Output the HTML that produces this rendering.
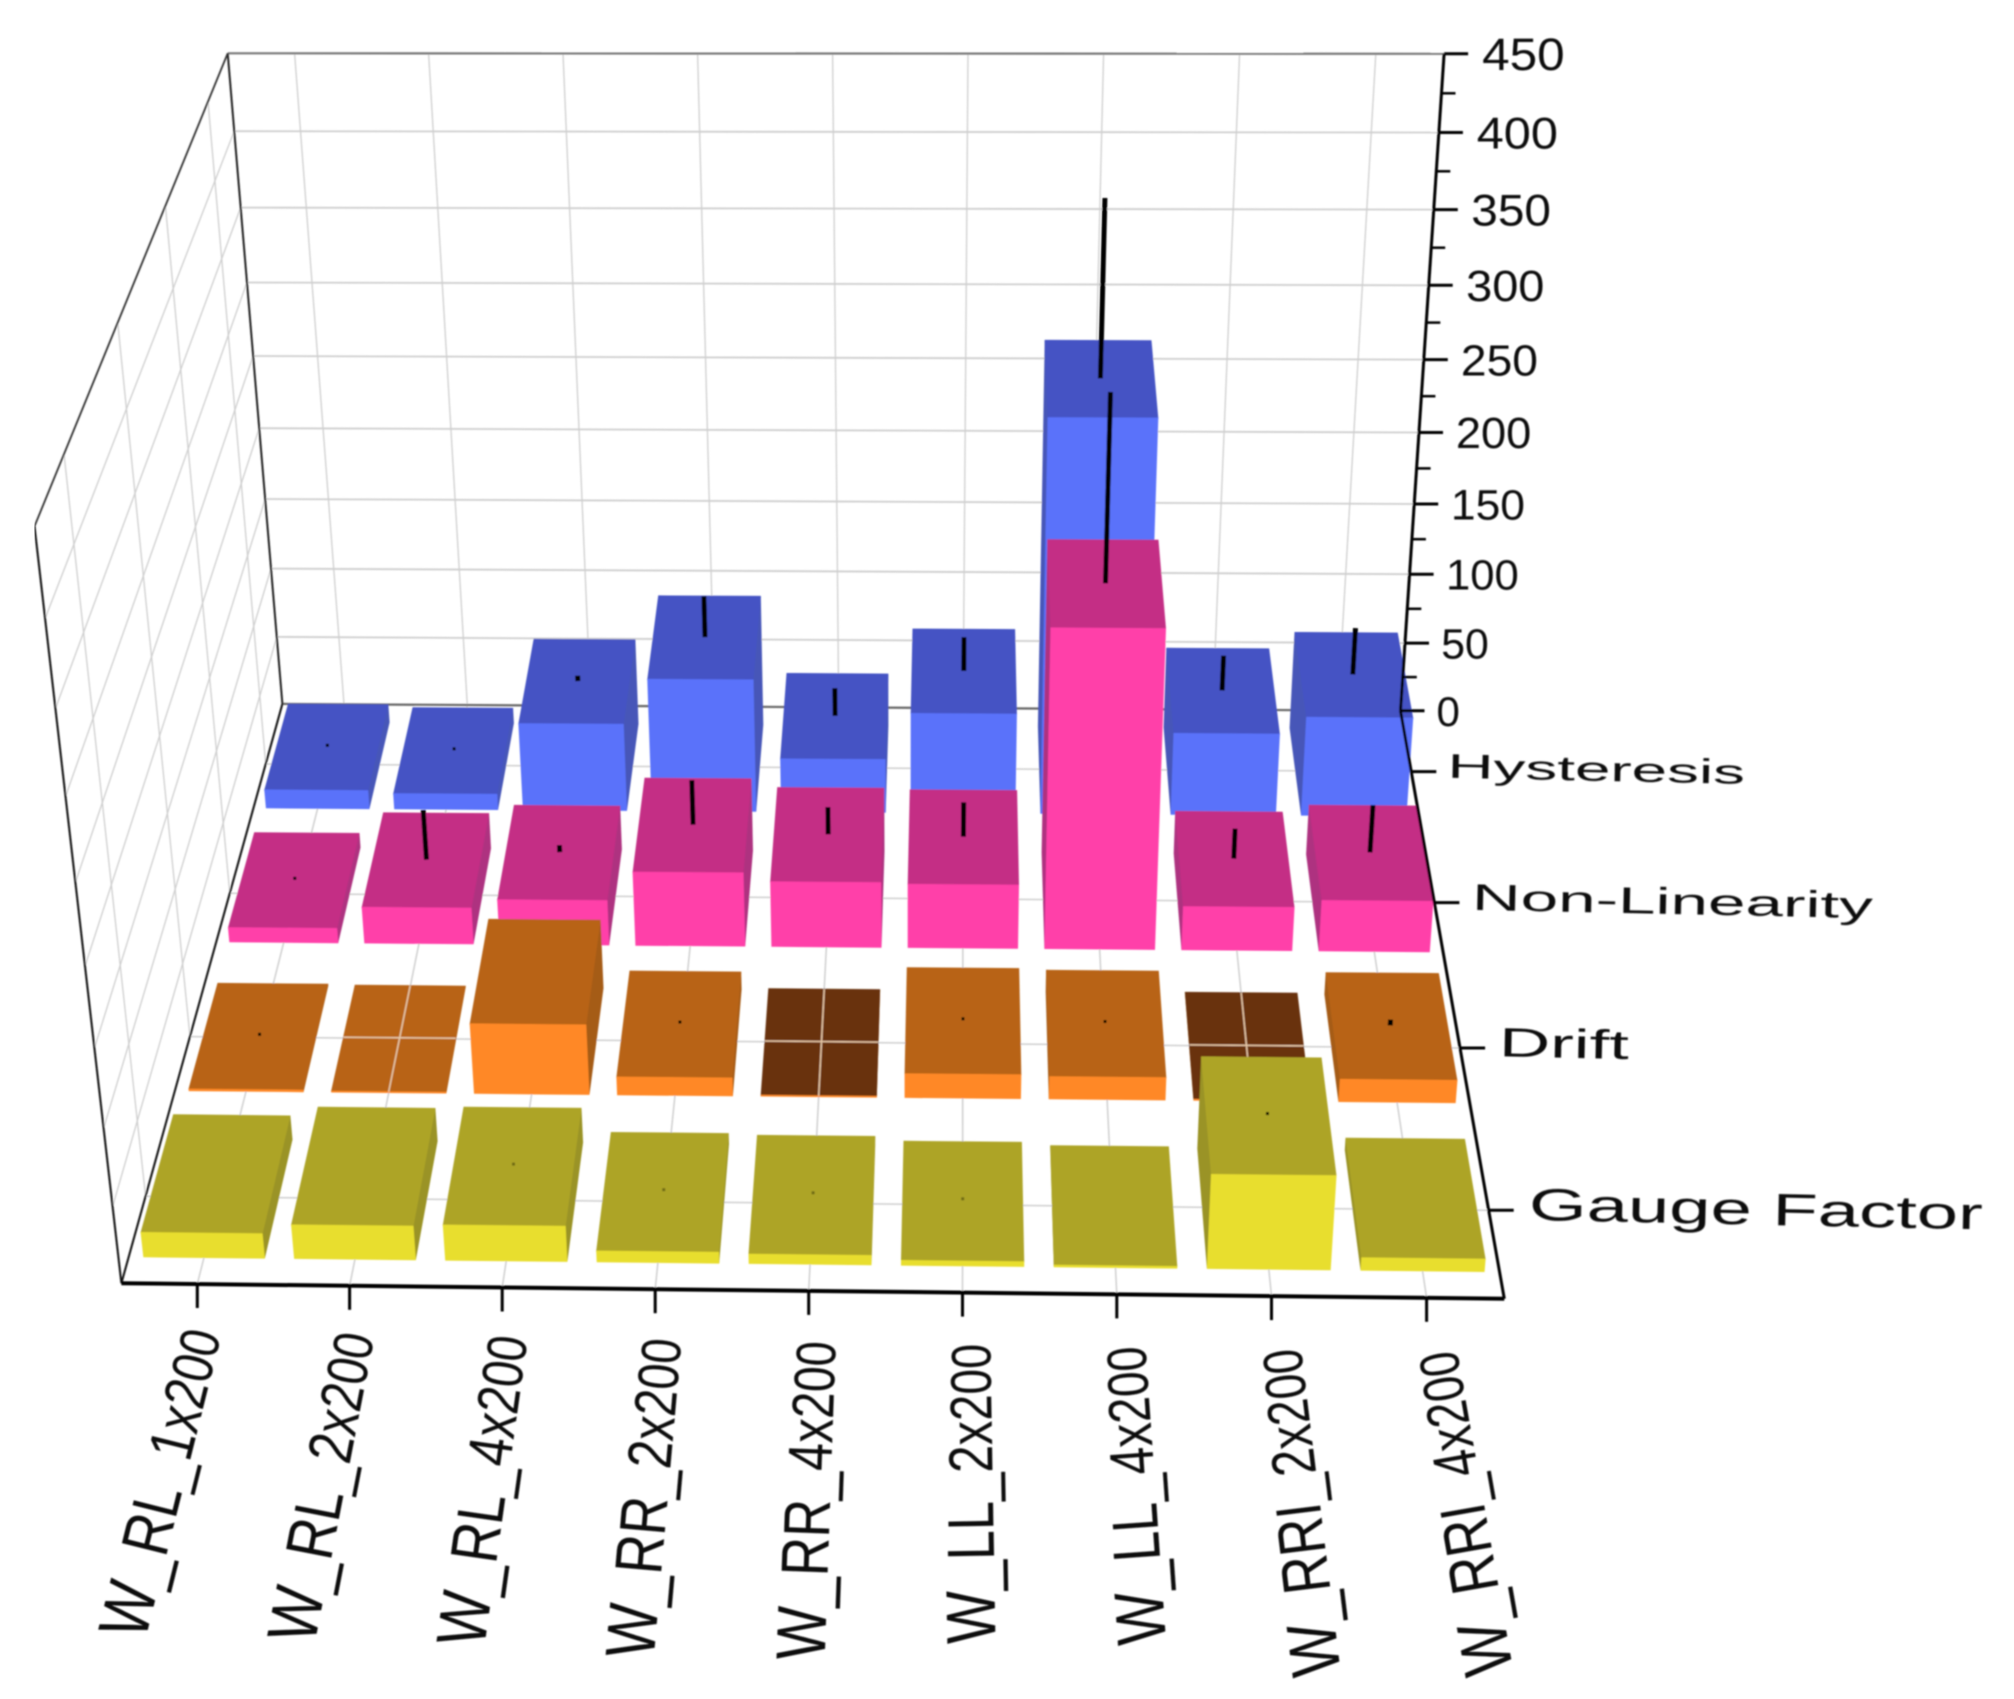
<!DOCTYPE html>
<html lang="en">
<head>
<meta charset="utf-8">
<title>3D bar chart of sensor metrics</title>
<style>
html,body{margin:0;padding:0;background:#fff;}
svg{display:block;font-family:"Liberation Sans",sans-serif;}
</style>
</head>
<body>
<svg id="chart" xmlns="http://www.w3.org/2000/svg" width="2014" height="1699" viewBox="0 0 2014 1699">
<defs><filter id="soft" x="0" y="0" width="100%" height="100%"><feGaussianBlur stdDeviation="0.9"/></filter></defs>
<rect x="0" y="0" width="2014" height="1699" fill="#ffffff"/>
<g id="root" filter="url(#soft)"></g>
</svg>
<script>
var categories = ["W_RL_1x200","W_RL_2x200","W_RL_4x200","W_RR_2x200","W_RR_4x200","W_LL_2x200","W_LL_4x200","W_RRI_2x200","W_RRI_4x200"];
var rowLabels = ["Gauge Factor","Drift","Non-Linearity","Hysteresis"];
var zTicks = [0,50,100,150,200,250,300,350,400,450];
var zMinorTicks = [25,75,125,175,225,275,325,375,425];
var gaugeValues = [16,22,23,7,6,3,1,61,8];
var gaugeErrors = [0,0,0.5,0.5,0.5,0.5,0,1,0];
var driftValues = [1,0.5,47,12,0.5,16,15,0.5,15];
var driftErrors = [1,0,0,2,0,1,1,0,4];
var nonLinearityValues = [10,25,31,51,45,44,216,30,35];
var nonLinearityErrors = [1,35,5,31,19,24,122,21,33];
var hysteresisValues = [13,11,62,94,38,71,273,58,70];
var hysteresisErrors = [1,2,4,29,20,24,117,25,33];
var driftDarkTop = [0,0,0,0,1,0,0,1,0];

var svgNS = "http://www.w3.org/2000/svg";
var root = document.getElementById("root");
var xMax = categories.length, yMax = rowLabels.length, zMax = zTicks[zTicks.length-1];

/* Camera calibration: world corners of the plot box and where they land on the canvas */
var calibration = [
 [0,4,0,283,705],[9,4,0,1400,710],[9,0,0,1502,1299],[0,0,0,122,1282],
 [0,4,450,227,53],[9,4,450,1444,54],[0,0,450,35,526],
 [9,4,400,1439,133],[9,4,350,1434,210],[9,4,300,1429,286],[9,4,250,1424,359],
 [9,4,200,1419,432],[9,4,150,1414,504],[9,4,100,1409,573],[9,4,50,1405,643],
 [9,3.5,0,1411,772],[9,2.5,0,1436,903],[9,1.5,0,1460,1048],[9,0.5,0,1489,1210],
 [0.5,0,0,196,1284],[4.5,0,0,809,1292],[8.5,0,0,1428,1298]
];
function solveCamera(pts){
  var i,j,k,n=11,N=[],B=[];
  for(i=0;i<n;i++){N.push(new Array(n).fill(0));B.push(0);}
  pts.forEach(function(p){
    var x=p[0]/9,y=p[1]/4,z=p[2]/450,u=p[3]/1000,v=p[4]/1000;
    var r1=[x,y,z,1,0,0,0,0,-u*x,-u*y,-u*z],r2=[0,0,0,0,x,y,z,1,-v*x,-v*y,-v*z];
    [[r1,u],[r2,v]].forEach(function(e){
      for(i=0;i<n;i++){B[i]+=e[0][i]*e[1];for(j=0;j<n;j++)N[i][j]+=e[0][i]*e[0][j];}
    });
  });
  for(i=0;i<n;i++){
    var m=i;for(k=i+1;k<n;k++)if(Math.abs(N[k][i])>Math.abs(N[m][i]))m=k;
    var t=N[i];N[i]=N[m];N[m]=t;t=B[i];B[i]=B[m];B[m]=t;
    for(k=i+1;k<n;k++){var f=N[k][i]/N[i][i];for(j=i;j<n;j++)N[k][j]-=f*N[i][j];B[k]-=f*B[i];}
  }
  var s=new Array(n).fill(0);
  for(i=n-1;i>=0;i--){var c=B[i];for(j=i+1;j<n;j++)c-=N[i][j]*s[j];s[i]=c/N[i][i];}
  return s;
}
var cam = solveCamera(calibration);
function project(x,y,z){
  var a=x/xMax,b=y/yMax,c=z/zMax,w=cam[8]*a+cam[9]*b+cam[10]*c+1;
  return [1000*(cam[0]*a+cam[1]*b+cam[2]*c+cam[3])/w,1000*(cam[4]*a+cam[5]*b+cam[6]*c+cam[7])/w];
}
function make(tag,attrs,parent){
  var el=document.createElementNS(svgNS,tag);
  for(var k in attrs)el.setAttribute(k,attrs[k]);
  (parent||root).appendChild(el);
  return el;
}
function seg(a,b,color,width,parent){
  return make("line",{x1:a[0].toFixed(1),y1:a[1].toFixed(1),x2:b[0].toFixed(1),y2:b[1].toFixed(1),stroke:color,"stroke-width":width},parent);
}
function poly(points,fill,parent){
  return make("polygon",{points:points.map(function(p){return p[0].toFixed(1)+","+p[1].toFixed(1);}).join(" "),fill:fill,stroke:fill,"stroke-width":1},parent);
}
function signedArea(pts){
  var s=0;
  for(var i=0;i<pts.length;i++){var a=pts[i],b=pts[(i+1)%pts.length];s+=a[0]*b[1]-b[0]*a[1];}
  return s;
}
var el;
var gridColor="#cfcfcf";

/* Gridlines */
zTicks.forEach(function(z,idx){
  if(idx===0||idx===zTicks.length-1)return;
  el=seg(project(0,yMax,z),project(xMax,yMax,z),gridColor,1.8);
  
  
  el=seg(project(0,0,z),project(0,yMax,z),gridColor,1.3);
  
  
});
categories.forEach(function(c,i){
  el=seg(project(i+0.5,yMax,0),project(i+0.5,yMax,zMax),gridColor,1.3);
  
  
  el=seg(project(i+0.5,0,0),project(i+0.5,yMax,0),gridColor,1.5);
  
  
});
rowLabels.forEach(function(r,j){
  el=seg(project(0,j+0.5,0),project(xMax,j+0.5,0),gridColor,1.5);
  
  
  el=seg(project(0,j+0.5,0),project(0,j+0.5,zMax),gridColor,1.3);
  
  
});

/* Frame */
el=seg(project(0,yMax,zMax),project(xMax,yMax,zMax),"#777777",2.2);


el=seg(project(0,yMax,0),project(xMax,yMax,0),"#666666",2.2);


el=seg(project(0,yMax,0),project(0,yMax,zMax),"#222222",2);


el=seg(project(0,0,zMax),project(0,yMax,zMax),"#333333",1.8);


el=seg(project(0,0,0),project(0,0,zMax),"#111111",2);


el=seg(project(0,0,0),project(0,yMax,0),"#111111",2);



/* Bars, back row first */
var series=[
 {name:"gauge-factor",values:gaugeValues,errors:gaugeErrors,top:"#ada426",front:"#e8de2e",side:"#9a9325"},
 {name:"drift",values:driftValues,errors:driftErrors,top:"#b86415",front:"#ff8826",side:"#a55b14"},
 {name:"non-linearity",values:nonLinearityValues,errors:nonLinearityErrors,top:"#c42f85",front:"#ff40a9",side:"#ae3280"},
 {name:"hysteresis",values:hysteresisValues,errors:hysteresisErrors,top:"#4453c4",front:"#5a72fa",side:"#4656b8"}
];
var barW=0.4, barD=0.35;
for(var j=series.length-1;j>=0;j--){
  (function(s,j){
    s.values.forEach(function(v,i){
      var cx=i+0.5,cy=j+0.5,x0=cx-barW,x1=cx+barW,y0=cy-barD,y1=cy+barD;
      var g=make("g",{});
      
      
      var topColor=s.top;
      if(s.name==="drift"&&driftDarkTop[i])topColor="#693210";
      var frontFace=[project(x0,y0,0),project(x1,y0,0),project(x1,y0,v),project(x0,y0,v)];
      var leftFace=[project(x0,y0,0),project(x0,y1,0),project(x0,y1,v),project(x0,y0,v)];
      var rightFace=[project(x1,y0,0),project(x1,y1,0),project(x1,y1,v),project(x1,y0,v)];
      var fs=signedArea(frontFace);
      if(signedArea(leftFace)*fs<0)poly(leftFace,s.side,g);
      if(signedArea(rightFace)*fs>0)poly(rightFace,s.side,g);
      poly([project(x0,y0,v),project(x1,y0,v),project(x1,y1,v),project(x0,y1,v)],topColor,g);
      poly(frontFace,s.front,g);
      if(s.name==="drift"&&s.values[i]<1){
        seg(project(cx,y0,v),project(cx,y1,v),"#e6c8a8",1.5,g);
        seg(project(x0,cy,v),project(x1,cy,v),"#e6c8a8",1.5,g);
      }
      var e=s.errors[i];
      if(e>0){
        var a=project(cx,cy,v),b=project(cx,cy,v+e);
        if(Math.abs(a[1]-b[1])<3)b=[b[0],a[1]-3];
        el=seg(a,b,"#000000",e>=4?5:3,g);
        if(s.name==="gauge-factor"&&i!==7)el.setAttribute('stroke-opacity','0.35');
        
        
      }
    });
  })(series[j],j);
}

/* Axes on top */
el=seg(project(0,0,0),project(xMax,0,0),"#000000",4);


el=seg(project(xMax,0,0),project(xMax,yMax,0),"#000000",3);


el=seg(project(xMax,yMax,0),project(xMax,yMax,zMax),"#000000",3);



/* Z ticks and labels */
zTicks.forEach(function(z){
  var p=project(xMax,yMax,z),f=42+3*z/zMax;
  el=seg(p,[p[0]+24,p[1]],"#000000",3);
  
  
  el=make("text",{transform:"translate("+(p[0]+38-(1-z/zMax)*2).toFixed(1)+","+(p[1]+f*0.36).toFixed(1)+") scale("+(1+0.1*z/zMax).toFixed(3)+",1)","font-size":f.toFixed(1),fill:"#111111"});
  el.textContent=String(z);
  
  
});
zMinorTicks.forEach(function(z){
  var p=project(xMax,yMax,z);
  el=seg(p,[p[0]+14,p[1]],"#000000",2.5);
  
  
});

/* Row ticks and labels */
rowLabels.forEach(function(r,j){
  var p=project(xMax,j+0.5,0),f=34+(p[1]-772)*11/438,sx=1.875-(p[1]-772)*0.225/438;
  el=seg(p,[p[0]+25,p[1]],"#000000",3);
  
  
  el=make("text",{transform:"translate("+(p[0]+36+4*(1-j/3)).toFixed(1)+","+(p[1]+f*0.3-4).toFixed(1)+") rotate(1.2) scale("+sx.toFixed(3)+",1)","font-size":f.toFixed(1),fill:"#111111"});
  el.textContent=r;
  
  
});

/* Category ticks and labels */
categories.forEach(function(c,i){
  var p=project(i+0.5,0,0),t=i/(categories.length-1);
  el=seg(p,[p[0],p[1]+24],"#000000",3);
  
  
  var angle=-76-24*t;
  var sy=0.82-0.03*t;
  var txt=make("text",{transform:"translate("+(p[0]+24+6*t).toFixed(1)+","+(p[1]+51).toFixed(1)+") rotate("+angle.toFixed(1)+") scale("+sy.toFixed(3)+",1)","text-anchor":"end",fill:"#111111"});
  
  
  for(var k=0;k<c.length;k++){
    var ts=make("tspan",{"font-size":(70-14*k/(c.length-1)).toFixed(1)},txt);
    ts.textContent=c.charAt(k);
  }
});
</script>
</body>
</html>
